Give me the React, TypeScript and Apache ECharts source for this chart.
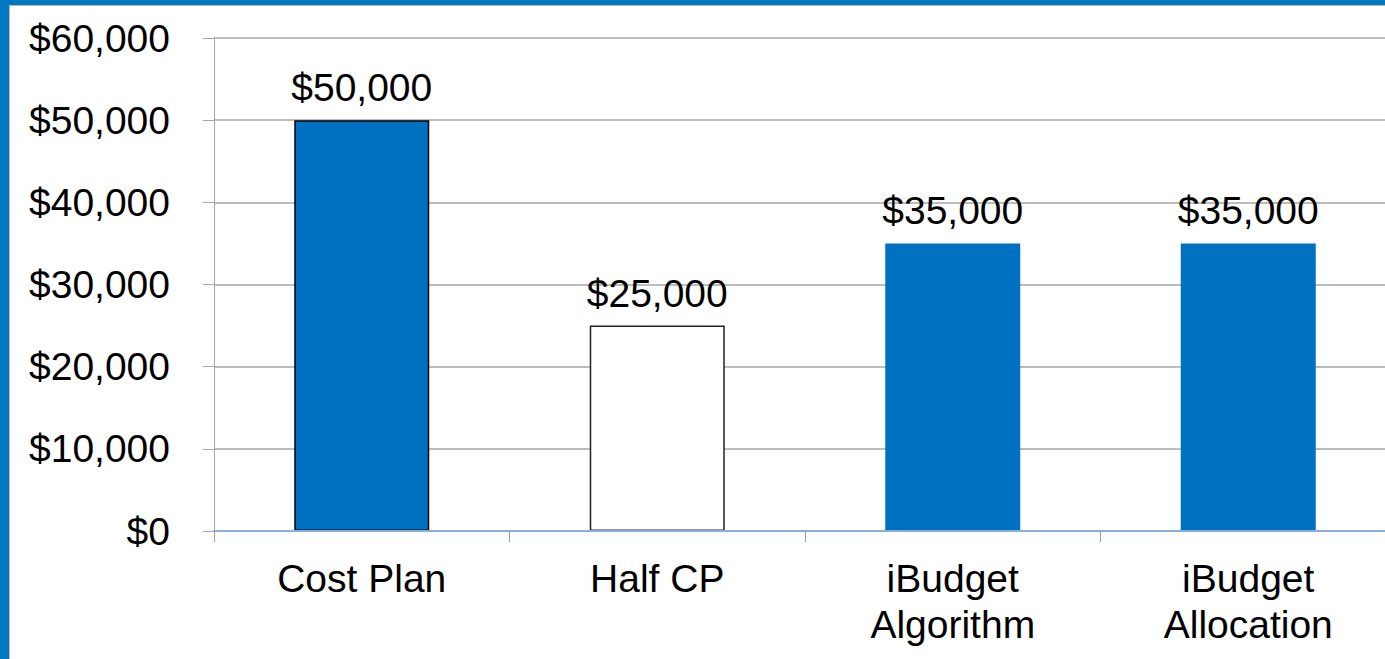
import React, { useEffect, useRef } from "react";
import * as echarts from "echarts";

const categories = ["Cost Plan", "Half CP", "iBudget\nAlgorithm", "iBudget\nAllocation"];
const values = [50000, 25000, 35000, 35000];
const yMin = 0;
const yMax = 60000;
const yInterval = 10000;

const FONT = "'Liberation Sans', Arial, sans-serif";
const BLUE = "#0070C0";

const barStyles = [
  { color: BLUE, borderColor: "#000000", borderWidth: 1.5 },
  { color: "#FFFFFF", borderColor: "#222222", borderWidth: 1.5 },
  { color: BLUE, borderWidth: 0 },
  { color: BLUE, borderWidth: 0 },
];

const fmt = (v: number) => "$" + Math.round(v).toLocaleString("en-US");

export default function App() {
  const ref = useRef<HTMLDivElement>(null);
  useEffect(() => {
    document.body.style.margin = "0";
    const chart = echarts.init(ref.current!, null, { renderer: "svg" });
    chart.setOption({
      animation: false,
      backgroundColor: "#FFFFFF",
      textStyle: { fontFamily: FONT },
      grid: { left: 214, right: 0, top: 38, bottom: 128, containLabel: false },
      graphic: [
        { type: "rect", shape: { x: 0, y: 0, width: 1400, height: 5 }, style: { fill: "#0079C1" }, z: 10 },
        { type: "rect", shape: { x: 0, y: 0, width: 9, height: 659 }, style: { fill: "#0079C1" }, z: 10 },
        { type: "line", shape: { x1: 9, y1: 5.5, x2: 1400, y2: 5.5 }, style: { stroke: "#B8B8B8", lineWidth: 1 }, z: 10 },
        { type: "line", shape: { x1: 9.5, y1: 5, x2: 9.5, y2: 659 }, style: { stroke: "#B8B8B8", lineWidth: 1 }, z: 10 },
      ],
      xAxis: {
        type: "category",
        data: categories,
        z: 3,
        axisLine: { show: true, lineStyle: { color: "#8AAEDC", width: 2 } },
        axisTick: { show: true, length: 11, alignWithLabel: false, lineStyle: { color: "#7FA3D4", width: 1 } },
        axisLabel: {
          interval: 0,
          margin: 24,
          color: "#000000",
          fontSize: 39,
          lineHeight: 46,
          fontFamily: FONT,
        },
      },
      yAxis: {
        type: "value",
        min: yMin,
        max: yMax,
        interval: yInterval,
        axisLine: { show: true, lineStyle: { color: "#A6A6A6", width: 1 } },
        axisTick: { show: true, inside: false, length: 11, lineStyle: { color: "#A6A6A6", width: 1 } },
        splitLine: { show: true, lineStyle: { color: "#A6A6A6", width: 1.5 } },
        axisLabel: {
          margin: 44,
          color: "#000000",
          fontSize: 39,
          fontFamily: FONT,
          formatter: (v: number) => fmt(v),
        },
      },
      series: [
        {
          type: "bar",
          barWidth: 135,
          data: values.map((v, i) => ({ value: v, itemStyle: barStyles[i] })),
          label: {
            show: true,
            position: "top",
            distance: 13,
            color: "#000000",
            fontSize: 39,
            fontFamily: FONT,
            formatter: (p: any) => fmt(p.value),
          },
        },
      ],
    });
    return () => chart.dispose();
  }, []);
  return (
    <div style={{ position: "absolute", left: 0, top: 0, width: 1385, height: 659, overflow: "hidden" }}>
      <div ref={ref} style={{ width: 1396, height: 659 }} />
    </div>
  );
}
